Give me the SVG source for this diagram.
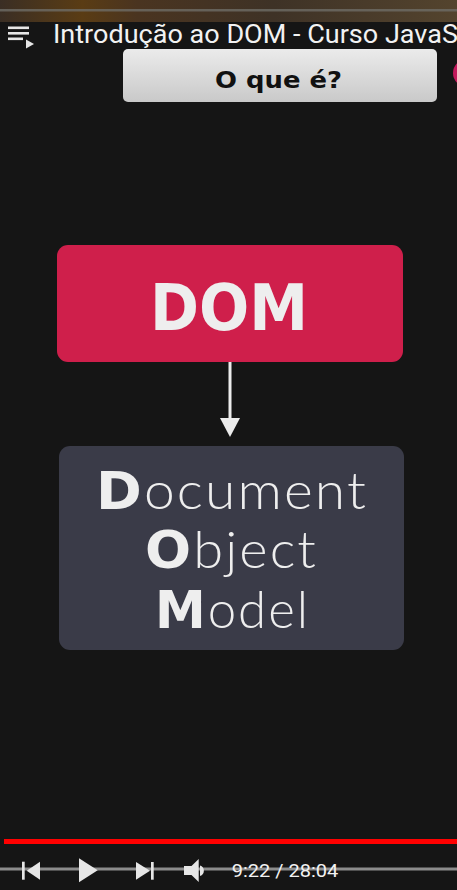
<svg xmlns="http://www.w3.org/2000/svg" width="457" height="890" viewBox="0 0 457 890">
<defs>
<linearGradient id="topStrip" x1="0" y1="0" x2="1" y2="0">
<stop offset="0" stop-color="#3a2e24"/>
<stop offset="0.18" stop-color="#5a3c14"/>
<stop offset="0.3" stop-color="#4a3420"/>
<stop offset="0.6" stop-color="#3e3226"/>
<stop offset="1" stop-color="#54442e"/>
</linearGradient>
<linearGradient id="btnGrad" x1="0" y1="0" x2="0" y2="1">
<stop offset="0" stop-color="#ebebeb"/>
<stop offset="1" stop-color="#c9c9c9"/>
</linearGradient>
<style>
.ui{font-family:Roboto,"Liberation Sans",sans-serif;fill:#f2f2f2}
.head{font-family:"DejaVu Sans","Liberation Sans",sans-serif;font-weight:bold}
.thin{font-family:Lato,"Open Sans","Liberation Sans",sans-serif;font-weight:300}
.cap{font-family:"DejaVu Sans","Liberation Sans",sans-serif;font-weight:bold}
.icon{fill:#e6e6e6}
</style>
</defs>
<rect x="0" y="0" width="457" height="890" fill="#151515"/>
<rect x="0" y="0" width="457" height="22" fill="url(#topStrip)"/>
<rect x="0" y="9" width="457" height="2.5" fill="#6e6d66" opacity="0.8"/>

<g id="title-bar">
<rect x="8" y="26.5" width="21" height="2.6" class="icon"/>
<rect x="8" y="32" width="21" height="2.6" class="icon"/>
<rect x="8" y="37.5" width="15" height="2.6" class="icon"/>
<polygon points="26,39.5 34,44 26,48.5" class="icon"/>
<text class="ui" x="53" y="43.3" font-size="25.5" textLength="405" lengthAdjust="spacingAndGlyphs">Introdução ao DOM - Curso JavaS</text>
</g>

<g id="oque-label">
<rect x="123" y="49" width="314" height="53" rx="5" fill="url(#btnGrad)"/>
<text class="head" x="215" y="87.5" font-size="23" fill="#111" textLength="127" lengthAdjust="spacingAndGlyphs">O que é?</text>
</g>
<circle cx="467" cy="73" r="14" fill="#c2185b"/>

<g id="connectors">
<line x1="230" y1="362" x2="230" y2="420" stroke="#ececec" stroke-width="3"/>
<polygon points="220,418 240,418 230,437" fill="#ececec"/>
</g>

<g id="node-dom">
<rect x="57" y="245" width="346" height="117" rx="11" fill="#cf1f4b"/>
<text class="head" x="150" y="330" font-size="64.5" fill="#eeeeee" textLength="158" lengthAdjust="spacingAndGlyphs">DOM</text>
</g>

<g id="node-document-object-model">
<rect x="59" y="446" width="345" height="204" rx="11" fill="#3a3b48"/>
<text x="96" y="509" font-size="51.6" fill="#eeeeee" letter-spacing="2" textLength="272" lengthAdjust="spacingAndGlyphs"><tspan class="cap">D</tspan><tspan class="thin">ocument</tspan></text>
<text x="145" y="568.3" font-size="51.6" fill="#eeeeee" letter-spacing="2" textLength="173" lengthAdjust="spacingAndGlyphs"><tspan class="cap">O</tspan><tspan class="thin">bject</tspan></text>
<text x="155" y="628" font-size="51.6" fill="#eeeeee" letter-spacing="2" textLength="155" lengthAdjust="spacingAndGlyphs"><tspan class="cap">M</tspan><tspan class="thin">odel</tspan></text>
</g>

<g id="player-controls">
<rect x="4" y="839" width="453" height="5" fill="#ff0000"/>
<rect x="0" y="867.5" width="457" height="3" fill="#8c8c8c"/>
<rect x="22" y="861.7" width="2.7" height="18" class="icon"/>
<polygon points="26.7,870.7 40,861.7 40,879.7" class="icon"/>
<polygon points="79,858.3 97.7,870.3 79,882.3" class="icon"/>
<polygon points="136,862 150,870.8 136,879.7" class="icon"/>
<rect x="151" y="862" width="2.7" height="17.7" class="icon"/>
<polygon points="184,866 191.5,866 198.7,859 198.7,882 191.5,875 184,875" class="icon"/>
<path d="M200,865.5 A5.5,5.5 0 0 1 200,876 Z" class="icon"/>
<text class="ui" x="231.7" y="876.7" font-size="18.5" fill="#dddddd" textLength="106.6" lengthAdjust="spacingAndGlyphs">9:22 / 28:04</text>
</g>
</svg>
